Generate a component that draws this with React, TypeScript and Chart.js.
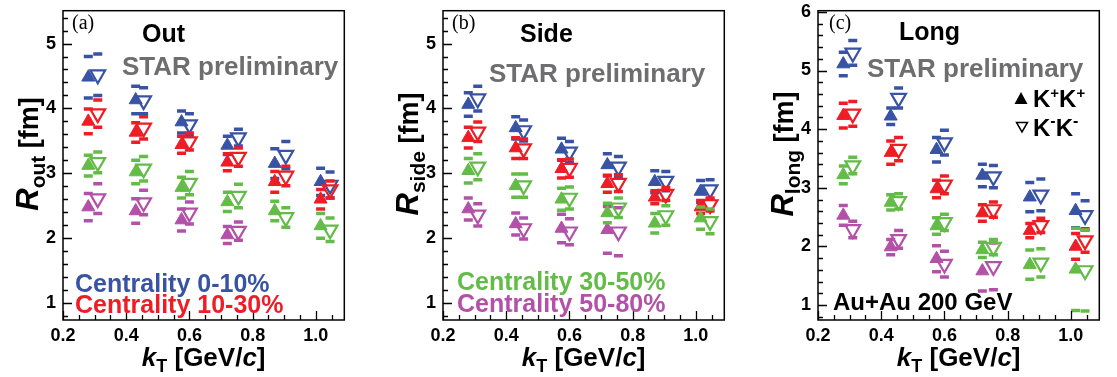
import React, { useEffect, useRef } from "react";
import { Chart, registerables } from "chart.js";
Chart.register(...registerables);

const SANS = '"Liberation Sans", Arial, Helvetica, sans-serif';
const SERIF = '"Liberation Serif", "Times New Roman", serif';

const BLUE = "#3853A4";
const RED = "#EE1D25";
const GREEN = "#63BB48";
const MAGENTA = "#B350A8";
const GRAY = "#6E6E70";

// kT bin positions (GeV/c) for K+K+ (filled) and K-K- (open)
const kTPlus = [0.28, 0.43, 0.575, 0.72, 0.87, 1.015];
const kTMinus = [0.31, 0.455, 0.6, 0.755, 0.905, 1.045];

const xTickValues = [0.2, 0.4, 0.6, 0.8, 1.0];
const yTicksOutSide = [1, 2, 3, 4, 5];
const yTicksLong = [1, 2, 3, 4, 5, 6];

const centralityLabels = ["Centrality 0-10%", "Centrality 10-30%", "Centrality 30-50%", "Centrality 50-80%"];

// ---- R_out ----
const outC0P = [4.48, 4.13, 3.79, 3.43, 3.15, 2.87];
const outC0PSys = [0.32, 0.21, 0.17, 0.14, 0.23, 0.21];
const outC0M = [4.52, 4.12, 3.75, 3.55, 3.28, 2.82];
const outC0MSys = [0.32, 0.2, 0.17, 0.13, 0.21, 0.2];
const outC1P = [3.8, 3.63, 3.44, 3.17, 2.87, 2.6];
const outC1PSys = [0.19, 0.15, 0.13, 0.13, 0.16, 0.15];
const outC1M = [3.92, 3.7, 3.49, 3.25, 2.96, 2.75];
const outC1MSys = [0.21, 0.17, 0.13, 0.14, 0.15, 0.13];
const outC2P = [3.12, 3.02, 2.78, 2.56, 2.42, 2.19];
const outC2PSys = [0.16, 0.18, 0.16, 0.15, 0.15, 0.19];
const outC2M = [3.17, 3.07, 2.85, 2.65, 2.32, 2.13];
const outC2MSys = [0.16, 0.19, 0.18, 0.18, 0.15, 0.18];
const outC3P = [2.48, 2.42, 2.28, 2.05];
const outC3PSys = [0.21, 0.19, 0.17, 0.13];
const outC3M = [2.61, 2.55, 2.39, 2.11];
const outC3MSys = [0.23, 0.19, 0.17, 0.14];

// ---- R_side ----
const sideC0P = [4.06, 3.7, 3.37, 3.13, 2.87, 2.72];
const sideC0PSys = [0.18, 0.17, 0.17, 0.17, 0.17, 0.17];
const sideC0M = [4.15, 3.66, 3.33, 3.1, 2.88, 2.75];
const sideC0MSys = [0.19, 0.16, 0.16, 0.16, 0.15, 0.15];
const sideC1P = [3.55, 3.39, 3.07, 2.84, 2.63, 2.48];
const sideC1PSys = [0.16, 0.16, 0.14, 0.13, 0.1, 0.1];
const sideC1M = [3.64, 3.38, 3.08, 2.85, 2.68, 2.52];
const sideC1MSys = [0.15, 0.15, 0.14, 0.13, 0.1, 0.1];
const sideC2P = [3.04, 2.81, 2.6, 2.39, 2.23, 2.31];
const sideC2PSys = [0.19, 0.18, 0.17, 0.15, 0.15, 0.17];
const sideC2M = [3.1, 2.81, 2.62, 2.47, 2.35, 2.26];
const sideC2MSys = [0.2, 0.18, 0.17, 0.15, 0.15, 0.19];
const sideC3P = [2.45, 2.22, 2.15, 2.13];
const sideC3PSys = [0.17, 0.17, 0.22, 0.36];
const sideC3M = [2.36, 2.15, 2.1, 2.1];
const sideC3MSys = [0.17, 0.16, 0.2, 0.37];

// ---- R_long ----
const longC0P = [5.11, 4.22, 3.65, 3.21, 2.84, 2.61];
const longC0PSys = [0.2, 0.14, 0.21, 0.19, 0.25, 0.29];
const longC0M = [5.3, 4.53, 3.77, 3.19, 2.88, 2.53];
const longC0MSys = [0.21, 0.17, 0.21, 0.19, 0.27, 0.25];
const longC1P = [4.23, 3.6, 2.98, 2.57, 2.27, 2.0];
const longC1PSys = [0.21, 0.2, 0.15, 0.14, 0.12, 0.22];
const longC1M = [4.26, 3.66, 3.05, 2.63, 2.36, 2.1];
const longC1MSys = [0.21, 0.2, 0.15, 0.13, 0.12, 0.2];
const longC2P = [3.22, 2.75, 2.35, 1.94, 1.69, 1.61];
const longC2PSys = [0.15, 0.13, 0.14, 0.13, 0.25, 0.7];
const longC2M = [3.38, 2.77, 2.41, 1.99, 1.72, 1.59];
const longC2MSys = [0.14, 0.13, 0.14, 0.13, 0.24, 0.69];
const longC3P = [2.53, 1.99, 1.79, 1.58];
const longC3PSys = [0.17, 0.13, 0.22, 0.34];
const longC3M = [2.29, 2.12, 1.7, 1.66];
const longC3MSys = [0.14, 0.15, 0.22, 0.4];

type Group = { color: string; rank: number; p: number[]; pSys: number[]; m: number[]; mSys: number[] };

function makeDatasets(groups: Group[]) {
  const ds: any[] = [];
  for (const g of groups) {
    const base = g.rank * 10;
    ds.push({
      data: g.p.map((v, i) => ({ x: kTPlus[i], y: v })),
      pointStyle: "triangle",
      pointRadius: 7.5,
      pointBackgroundColor: g.color,
      pointBorderColor: g.color,
      pointBorderWidth: 1,
      showLine: false,
      order: base + 1,
    });
    ds.push({
      data: g.m.map((v, i) => ({ x: kTMinus[i], y: v })),
      pointStyle: "triangle",
      pointRotation: 180,
      pointRadius: 8.5,
      pointBackgroundColor: "rgba(0,0,0,0)",
      pointBorderColor: g.color,
      pointBorderWidth: 2.2,
      showLine: false,
      order: base + 2,
    });
    ds.push({
      data: g.p.flatMap((v, i) => [
        { x: kTPlus[i], y: v + g.pSys[i] },
        { x: kTPlus[i], y: v - g.pSys[i] },
      ]),
      pointStyle: "line",
      pointRadius: 4.5,
      pointBorderColor: g.color,
      pointBorderWidth: 3.5,
      showLine: false,
      order: base + 5,
    });
    ds.push({
      data: g.m.flatMap((v, i) => [
        { x: kTMinus[i], y: v + g.mSys[i] },
        { x: kTMinus[i], y: v - g.mSys[i] },
      ]),
      pointStyle: "line",
      pointRadius: 4.5,
      pointBorderColor: g.color,
      pointBorderWidth: 3.5,
      showLine: false,
      order: base + 6,
    });
  }
  return ds;
}

type Seg = { t: string; font: string; dy?: number };

function drawSegs(ctx: CanvasRenderingContext2D, segs: Seg[], x: number, y: number, align: "left" | "center") {
  let w = 0;
  for (const s of segs) {
    ctx.font = s.font;
    w += ctx.measureText(s.t).width;
  }
  let cx = align === "center" ? x - w / 2 : x;
  ctx.textAlign = "left";
  ctx.textBaseline = "alphabetic";
  for (const s of segs) {
    ctx.font = s.font;
    ctx.fillText(s.t, cx, y + (s.dy || 0));
    cx += ctx.measureText(s.t).width;
  }
}

function txt(ctx: CanvasRenderingContext2D, t: string, x: number, y: number, font: string, color: string) {
  ctx.font = font;
  ctx.fillStyle = color;
  ctx.textAlign = "left";
  ctx.textBaseline = "alphabetic";
  ctx.fillText(t, x, y);
}

type PanelCfg = {
  key: string;
  left: number;
  yMin: number;
  yMax: number;
  yTicks: number[];
  sub: string;
  groups: Group[];
  extra: (ctx: CanvasRenderingContext2D) => void;
};

const bold = (s: number) => `bold ${s}px ${SANS}`;

const panels: PanelCfg[] = [
  {
    key: "out",
    left: 0,
    yMin: 0.74,
    yMax: 5.506,
    yTicks: yTicksOutSide,
    sub: "out",
    groups: [
      { color: GREEN, rank: 1, p: outC2P, pSys: outC2PSys, m: outC2M, mSys: outC2MSys },
      { color: RED, rank: 2, p: outC1P, pSys: outC1PSys, m: outC1M, mSys: outC1MSys },
      { color: BLUE, rank: 3, p: outC0P, pSys: outC0PSys, m: outC0M, mSys: outC0MSys },
      { color: MAGENTA, rank: 4, p: outC3P, pSys: outC3PSys, m: outC3M, mSys: outC3MSys },
    ],
    extra: (ctx) => {
      txt(ctx, "(a)", 72, 29, `20px ${SERIF}`, "#000");
      txt(ctx, "Out", 142, 42, bold(25), "#000");
      txt(ctx, "STAR preliminary", 122, 75, bold(26), GRAY);
      txt(ctx, centralityLabels[0], 75, 292, bold(25), BLUE);
      txt(ctx, centralityLabels[1], 75, 313, bold(25), RED);
    },
  },
  {
    key: "side",
    left: 380,
    yMin: 0.74,
    yMax: 5.506,
    yTicks: yTicksOutSide,
    sub: "side",
    groups: [
      { color: GREEN, rank: 1, p: sideC2P, pSys: sideC2PSys, m: sideC2M, mSys: sideC2MSys },
      { color: RED, rank: 2, p: sideC1P, pSys: sideC1PSys, m: sideC1M, mSys: sideC1MSys },
      { color: BLUE, rank: 3, p: sideC0P, pSys: sideC0PSys, m: sideC0M, mSys: sideC0MSys },
      { color: MAGENTA, rank: 4, p: sideC3P, pSys: sideC3PSys, m: sideC3M, mSys: sideC3MSys },
    ],
    extra: (ctx) => {
      txt(ctx, "(b)", 72, 29, `20px ${SERIF}`, "#000");
      txt(ctx, "Side", 140, 42, bold(25), "#000");
      txt(ctx, "STAR preliminary", 109, 82, bold(26), GRAY);
      txt(ctx, centralityLabels[2], 77, 290, bold(25), GREEN);
      txt(ctx, centralityLabels[3], 77, 312, bold(25), MAGENTA);
    },
  },
  {
    key: "long",
    left: 755,
    yMin: 0.746,
    yMax: 6.02,
    yTicks: yTicksLong,
    sub: "long",
    groups: [
      { color: GREEN, rank: 1, p: longC2P, pSys: longC2PSys, m: longC2M, mSys: longC2MSys },
      { color: RED, rank: 2, p: longC1P, pSys: longC1PSys, m: longC1M, mSys: longC1MSys },
      { color: BLUE, rank: 3, p: longC0P, pSys: longC0PSys, m: longC0M, mSys: longC0MSys },
      { color: MAGENTA, rank: 4, p: longC3P, pSys: longC3PSys, m: longC3M, mSys: longC3MSys },
    ],
    extra: (ctx) => {
      txt(ctx, "(c)", 74, 29, `20px ${SERIF}`, "#000");
      txt(ctx, "Long", 144, 40, bold(25), "#000");
      txt(ctx, "STAR preliminary", 112, 77, bold(26), GRAY);
      // legend
      ctx.fillStyle = "#000";
      ctx.beginPath();
      ctx.moveTo(266, 92);
      ctx.lineTo(272.5, 104);
      ctx.lineTo(259.5, 104);
      ctx.closePath();
      ctx.fill();
      ctx.strokeStyle = "#000";
      ctx.lineWidth = 1.5;
      ctx.beginPath();
      ctx.moveTo(261.5, 122.5);
      ctx.lineTo(272.5, 122.5);
      ctx.lineTo(267, 132);
      ctx.closePath();
      ctx.stroke();
      ctx.fillStyle = "#000";
      drawSegs(ctx, [
        { t: "K", font: bold(24) },
        { t: "+", font: bold(15), dy: -9 },
        { t: "K", font: bold(24) },
        { t: "+", font: bold(15), dy: -9 },
      ], 278, 107, "left");
      drawSegs(ctx, [
        { t: "K", font: bold(24) },
        { t: "-", font: bold(16), dy: -10 },
        { t: "K", font: bold(24) },
        { t: "-", font: bold(16), dy: -10 },
      ], 278, 136, "left");
      txt(ctx, "Au+Au 200 GeV", 78, 310, bold(24), "#000");
    },
  },
];

const CANVAS_W = 355;
const CANVAS_H = 377;

function Panel({ cfg }: { cfg: PanelCfg }) {
  const ref = useRef<HTMLCanvasElement | null>(null);
  useEffect(() => {
    if (!ref.current) return;
    const framePlugin = {
      id: "frame_" + cfg.key,
      afterDraw(chart: any) {
        const ctx: CanvasRenderingContext2D = chart.ctx;
        const { left, right, top, bottom } = chart.chartArea;
        const xs = chart.scales.x;
        const ys = chart.scales.y;
        ctx.save();
        ctx.strokeStyle = "#000";
        ctx.lineWidth = 1.5;
        ctx.strokeRect(left, top, right - left, bottom - top);
        ctx.lineWidth = 1.3;
        // y ticks
        ctx.beginPath();
        for (let k = Math.ceil(cfg.yMin * 5); k <= Math.floor(cfg.yMax * 5); k++) {
          const v = k / 5;
          const y = Math.round(ys.getPixelForValue(v)) + 0.5;
          const len = k % 5 === 0 ? 9 : 5;
          ctx.moveTo(left, y);
          ctx.lineTo(left + len, y);
        }
        // x ticks
        for (let k = 4; k <= 21; k++) {
          const v = k / 20;
          const x = Math.round(xs.getPixelForValue(v)) + 0.5;
          const len = k % 4 === 0 ? 9 : 5;
          ctx.moveTo(x, bottom);
          ctx.lineTo(x, bottom - len);
        }
        ctx.stroke();
        // axis titles
        ctx.fillStyle = "#000";
        const cx = (left + right) / 2;
        drawSegs(ctx, [
          { t: "k", font: `italic bold 26px ${SANS}` },
          { t: "T", font: bold(18), dy: 6 },
          { t: " [GeV/", font: bold(26) },
          { t: "c", font: `italic bold 26px ${SANS}` },
          { t: "]", font: bold(26) },
        ], cx, 366, "center");
        ctx.save();
        ctx.translate(38, 154);
        ctx.rotate(-Math.PI / 2);
        drawSegs(ctx, [
          { t: "R", font: `italic bold 31px ${SANS}` },
          { t: cfg.sub, font: bold(21), dy: 7 },
          { t: " [fm]", font: bold(27) },
        ], 0, 0, "center");
        ctx.restore();
        cfg.extra(ctx);
        ctx.restore();
      },
    };

    const tickFont = { family: SANS, size: 18, weight: "bold" as const };
    const chart = new Chart(ref.current, {
      type: "scatter",
      data: { datasets: makeDatasets(cfg.groups) },
      options: {
        animation: false,
        responsive: false,
        events: [],
        layout: { padding: { left: 0, right: 8, top: 9, bottom: 0 } },
        plugins: { legend: { display: false }, tooltip: { enabled: false } },
        scales: {
          x: {
            type: "linear",
            min: 0.2,
            max: 1.09,
            grid: { display: false, drawTicks: false },
            border: { display: false },
            afterBuildTicks: (s: any) => {
              s.ticks = xTickValues.map((v) => ({ value: v }));
            },
            afterFit: (s: any) => {
              s.height = 57;
              s.paddingLeft = 0;
              s.paddingRight = 0;
            },
            ticks: {
              autoSkip: false,
              maxRotation: 0,
              padding: 5,
              color: "#000",
              font: tickFont,
              callback: (v: any) => Number(v).toFixed(1),
            },
          },
          y: {
            type: "linear",
            min: cfg.yMin,
            max: cfg.yMax,
            grid: { display: false, drawTicks: false },
            border: { display: false },
            afterBuildTicks: (s: any) => {
              s.ticks = cfg.yTicks.map((v) => ({ value: v }));
            },
            afterFit: (s: any) => {
              s.width = 63;
              s.paddingTop = 0;
              s.paddingBottom = 0;
            },
            ticks: {
              autoSkip: false,
              padding: 7,
              color: "#000",
              font: tickFont,
              callback: (v: any) => String(v),
            },
          },
        },
      } as any,
      plugins: [framePlugin],
    });
    return () => chart.destroy();
  }, [cfg]);

  return (
    <canvas
      ref={ref}
      width={CANVAS_W}
      height={CANVAS_H}
      style={{ position: "absolute", left: cfg.left, top: 0, width: CANVAS_W, height: CANVAS_H }}
    />
  );
}

export default function App() {
  return (
    <div
      style={{
        position: "fixed",
        left: 0,
        top: 0,
        width: 1117,
        height: 377,
        background: "#fff",
        overflow: "hidden",
      }}
    >
      {panels.map((p) => (
        <Panel key={p.key} cfg={p} />
      ))}
    </div>
  );
}
